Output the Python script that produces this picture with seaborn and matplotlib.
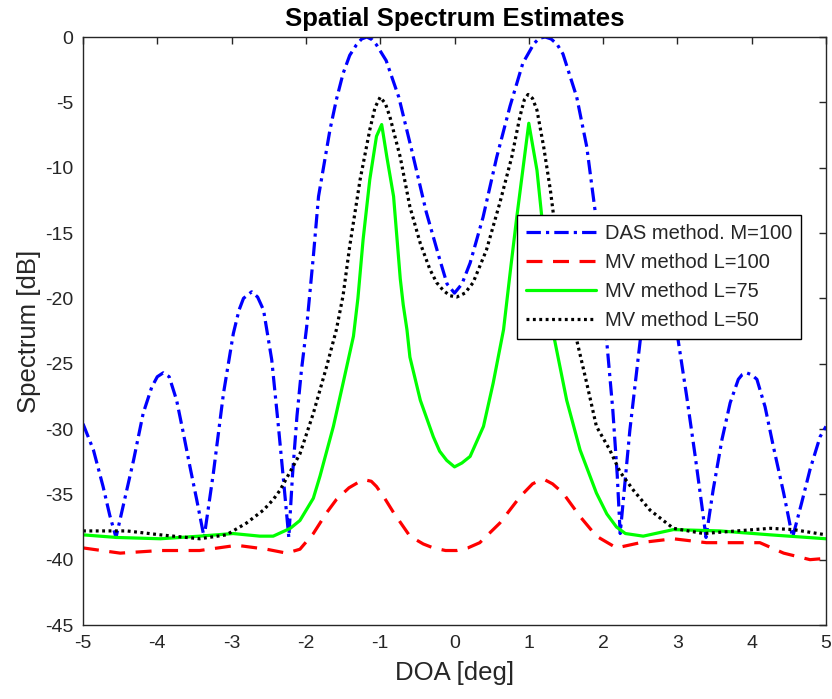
import matplotlib
matplotlib.use("Agg")
import matplotlib.pyplot as plt
import seaborn as sns
import pandas as pd
from matplotlib.lines import Line2D

# ---- data ----
das_x = [-5.00, -4.86, -4.73, -4.64, -4.556, -4.46, -4.32, -4.19, -4.075, -4.00, -3.92, -3.84, -3.74,
         -3.65, -3.56, -3.47, -3.37, -3.246, -3.11, -2.977, -2.90, -2.84, -2.73, -2.65, -2.57, -2.46,
         -2.37, -2.30, -2.23, -2.18, -2.12, -2.06, -1.99, -1.90, -1.83, -1.676, -1.59, -1.50, -1.41,
         -1.32, -1.25, -1.18, -1.11, -1.05, -0.92, -0.75, -0.57, -0.38, -0.20, -0.10, 0.0, 0.10, 0.21,
         0.384, 0.568, 0.747, 0.92, 1.07, 1.14, 1.22, 1.30, 1.38, 1.46, 1.645, 1.78, 1.89, 1.98, 2.06,
         2.13, 2.19, 2.23, 2.36, 2.50, 2.62, 2.75, 2.88, 3.01, 3.125, 3.24, 3.33, 3.385, 3.48, 3.60,
         3.71, 3.82, 3.87, 3.93, 4.00, 4.07, 4.18, 4.29, 4.43, 4.55, 4.67, 4.785, 4.92, 5.0]
das_y = [-29.6, -31.6, -34.4, -36.6, -38.3, -35.9, -32.4, -28.8, -26.8, -26.0, -25.7, -26.0, -27.8,
         -30.3, -32.9, -35.4, -38.3, -33.4, -27.3, -22.7, -20.9, -20.0, -19.5, -19.9, -20.9, -24.7,
         -29.8, -34.0, -38.3, -33.5, -29.0, -25.5, -22.2, -16.8, -12.2, -7.1, -4.8, -2.8, -1.4,
         -0.6, -0.15, 0.0, -0.2, -0.6, -1.8, -4.6, -8.8, -13.4, -17.0, -18.9, -19.6, -18.9, -17.3,
         -13.8, -9.2, -5.3, -2.0, -0.5, -0.1, 0.0, -0.15, -0.55, -1.3, -4.6, -8.4, -13.2, -19.0, -24.0,
         -28.5, -33.5, -38.0, -30.1, -23.2, -20.5, -19.5, -20.3, -23.2, -27.5, -32.1, -35.9, -38.3, -34.7, -30.8,
         -28.0, -26.2, -25.85, -25.7, -25.85, -26.2, -28.3, -31.3, -34.9, -38.3, -35.7, -33.1, -30.6, -29.8]

mv100_x = [-5.0, -4.50, -3.96, -3.43, -2.93, -2.53, -2.26, -2.08, -1.90, -1.72, -1.59, -1.42, -1.27,
           -1.20, -1.12, -1.05, -0.94, -0.82, -0.60, -0.42, -0.285, -0.12, 0.03, 0.18, 0.34, 0.61, 0.88,
           1.05, 1.14, 1.22, 1.32, 1.46, 1.69, 1.91, 2.18, 2.50, 2.945, 3.39, 3.75, 4.11, 4.43, 4.785, 5.0]
mv100_y = [-39.1, -39.5, -39.3, -39.3, -38.9, -39.2, -39.5, -39.2, -38.0, -36.4, -35.4, -34.5, -34.0,
           -33.9, -34.0, -34.4, -35.3, -36.4, -38.2, -38.8, -39.1, -39.3, -39.3, -39.1, -38.7, -37.2, -35.2,
           -34.2, -33.95, -33.9, -34.2, -34.9, -36.7, -38.2, -39.1, -38.7, -38.4, -38.7, -38.7, -38.7, -39.5, -40.0, -39.9]

mv75_x = [-5.0, -4.55, -3.96, -3.43, -2.98, -2.62, -2.44, -2.21, -2.08, -1.90, -1.81, -1.63, -1.50,
          -1.36, -1.30, -1.23, -1.14, -1.05, -0.98, -0.91, -0.82, -0.73, -0.69, -0.64, -0.60, -0.46,
          -0.285, -0.20, -0.105, 0.0, 0.10, 0.21, 0.39, 0.52, 0.66, 0.76, 0.84, 0.93, 1.0, 1.11, 1.17,
          1.25, 1.33, 1.51, 1.69, 1.91, 2.05, 2.18, 2.30, 2.54, 2.945, 3.57, 4.25, 5.0]
mv75_y = [-38.1, -38.3, -38.4, -38.2, -38.0, -38.2, -38.2, -37.6, -37.0, -35.3, -33.6, -29.8, -26.5,
          -22.9, -20.0, -15.5, -10.9, -7.6, -6.7, -9.2, -12.2, -18.5, -20.5, -22.4, -24.5, -27.8,
          -30.6, -31.7, -32.4, -32.9, -32.6, -32.1, -29.8, -26.5, -22.4, -17.5, -13.7, -9.7, -6.6, -10.2, -13.5,
          -18.0, -22.7, -27.8, -31.6, -34.9, -36.5, -37.5, -38.0, -38.2, -37.7, -37.8, -38.1, -38.4]

mv50_x = [-5.0, -4.41, -3.96, -3.43, -3.07, -2.80, -2.57, -2.44, -2.35, -2.08, -1.90, -1.72, -1.59,
          -1.50, -1.41, -1.27, -1.14, -1.07, -1.0, -0.93, -0.87, -0.73, -0.60, -0.46, -0.33, -0.24,
          -0.15, -0.06, 0.03, 0.14, 0.25, 0.43, 0.61, 0.77, 0.88, 0.94, 0.99, 1.05, 1.11, 1.20, 1.29,
          1.33, 1.40, 1.50, 1.57, 1.645, 1.78, 1.91, 2.09, 2.23, 2.41, 2.63, 2.945, 3.35, 3.80, 4.25,
          4.56, 5.0]
mv50_y = [-37.8, -37.8, -38.1, -38.4, -38.1, -37.2, -36.2, -35.4, -34.7, -31.9, -28.8, -25.2, -22.4,
          -19.8, -16.0, -10.9, -7.1, -5.4, -4.6, -5.1, -6.1, -9.2, -13.0, -15.8, -17.8, -18.8,
          -19.4, -19.8, -19.9, -19.6, -18.8, -16.3, -12.7, -9.2, -6.1, -4.8, -4.4, -4.7, -5.6, -8.4, -11.7,
          -13.5, -16.3, -19.5, -21.5, -23.2, -26.5, -29.8, -31.6, -33.3, -34.7, -36.2, -37.6, -38.0, -37.8, -37.6,
          -37.7, -38.1]

labels = ["DAS method. M=100", "MV method L=100", "MV method L=75", "MV method L=50"]
x_ticks = [-5, -4, -3, -2, -1, 0, 1, 2, 3, 4, 5]
y_ticks = [-45, -40, -35, -30, -25, -20, -15, -10, -5, 0]

# ---- styling ----
sns.set_theme(style="white")
plt.rcParams['font.family'] = ['Liberation Sans', 'DejaVu Sans']
plt.rcParams['axes.unicode_minus'] = False
gray = (0.15, 0.15, 0.15)

fig = plt.figure(figsize=(8.32, 6.99), dpi=100)
ax = fig.add_axes([83/832, 1 - 625/699, 743/832, 588/699])

series = [
    (das_x, das_y, (0, 0, 1), (4.5, 1.6, 1.0, 1.6)),
    (mv100_x, mv100_y, (1, 0, 0), (5.0, 3.3)),
    (mv75_x, mv75_y, (0, 1, 0), None),
    (mv50_x, mv50_y, (0, 0, 0), (0.9, 1.1)),
]
lw = 2.3
handles = []
for (xs, ys, col, dash), lab in zip(series, labels):
    df = pd.DataFrame({"x": xs, "y": ys})
    sns.lineplot(data=df, x="x", y="y", ax=ax, color=col, linewidth=lw, sort=False)
    line = ax.lines[-1]
    line.set_solid_joinstyle("round")
    line.set_dash_joinstyle("round")
    if dash is not None:
        line.set_dashes(dash)
    h = Line2D([0], [0], color=col, linewidth=lw)
    if dash is not None:
        h.set_dashes(dash)
    handles.append(h)

ax.set_xlim(-5, 5)
ax.set_ylim(-45, 0)
ax.set_xticks(x_ticks)
ax.set_yticks(y_ticks)
ax.tick_params(direction="in", top=True, right=True, length=5, width=1, color=gray,
               labelsize=14, labelcolor=gray, pad=7)
for s in ax.spines.values():
    s.set_color(gray)
    s.set_linewidth(1)
ax.grid(False)

ax.set_xlabel("DOA [deg]", fontsize=18.5, color=gray, labelpad=7)
ax.set_ylabel("Spectrum [dB]", fontsize=18.5, color=gray, labelpad=3)
ax.set_title("Spatial Spectrum Estimates", fontsize=18.5, fontweight="bold", color="black", pad=8)

leg = ax.legend(handles, labels, loc="upper left", bbox_to_anchor=(0.584, 0.697),
                borderaxespad=0, fontsize=14.5, frameon=True, fancybox=False, framealpha=1,
                edgecolor="black", handlelength=3.5, handletextpad=0.4, labelspacing=0.5,
                borderpad=0.45)
leg.get_frame().set_linewidth(1)
for t in leg.get_texts():
    t.set_color(gray)

fig.savefig("out.png", dpi=100)
